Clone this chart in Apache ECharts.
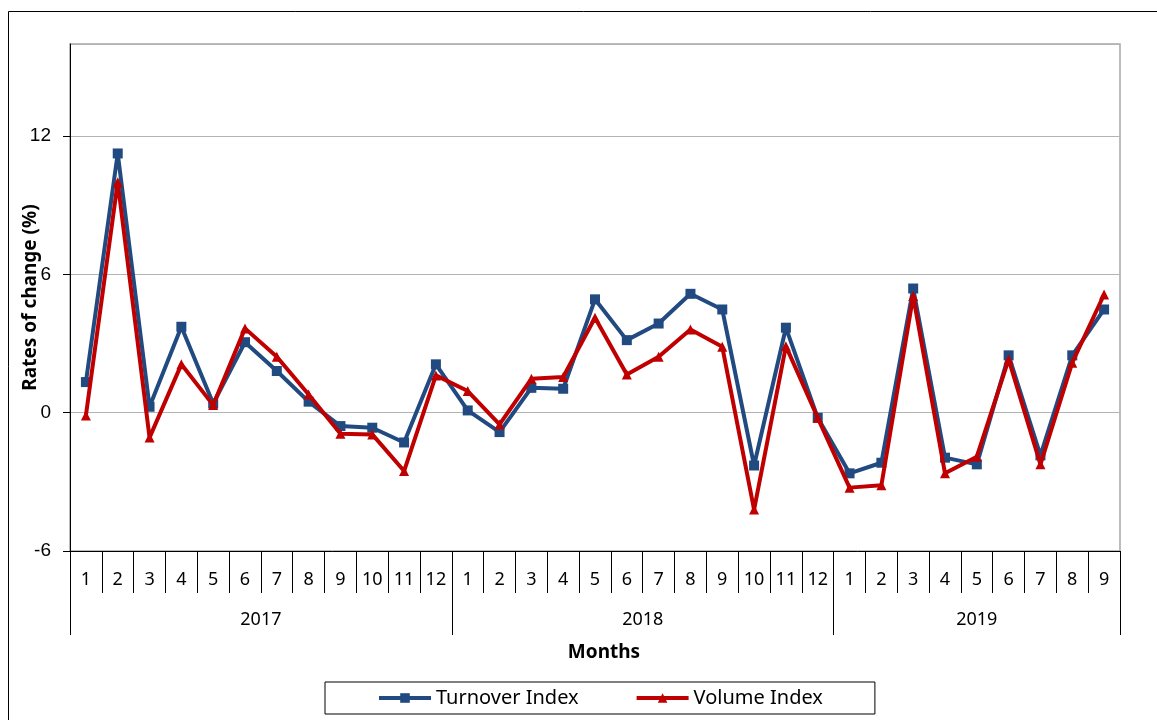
<!DOCTYPE html>
<html>
<head>
<meta charset="utf-8">
<script src="https://cdn.jsdelivr.net/npm/echarts@6/dist/echarts.min.js"></script>
<style>html,body{margin:0;padding:0;background:#fff}#c{width:1157px;height:720px}</style>
</head>
<body>
<div id="c"></div>
<script>
const years = ['2017', '2018', '2019'];
const monthsPerYear = [12, 12, 9];
const monthLabels = ['1','2','3','4','5','6','7','8','9','10','11','12',
                     '1','2','3','4','5','6','7','8','9','10','11','12',
                     '1','2','3','4','5','6','7','8','9'];
const turnoverIndex = [1.33, 11.25, 0.26, 3.73, 0.40, 3.06, 1.81, 0.48, -0.58, -0.65, -1.29, 2.10,
                       0.10, -0.84, 1.08, 1.04, 4.92, 3.15, 3.87, 5.16, 4.48, -2.29, 3.69, -0.22,
                       -2.63, -2.17, 5.39, -1.95, -2.24, 2.49, -1.85, 2.49, 4.48];
const volumeIndex = [-0.12, 10.0, -1.08, 2.10, 0.33, 3.66, 2.43, 0.79, -0.91, -0.94, -2.53, 1.62,
                     0.94, -0.51, 1.47, 1.55, 4.12, 1.66, 2.43, 3.61, 2.86, -4.20, 2.89, -0.22,
                     -3.25, -3.15, 5.06, -2.63, -1.91, 2.31, -2.24, 2.17, 5.13];
const yTicks = {min: -6, max: 16, interval: 6};

// derived helpers for the year axis
const yearStarts = [];
const yearLabelAt = {};
let s = 0;
years.forEach((y, i) => {
  const n = monthsPerYear[i];
  yearStarts.push(s);
  const k = s + Math.floor((n - 1) / 2);
  const shift = (s + n / 2) - (k + 0.5); // in bands
  yearLabelAt[k] = {text: y, shifted: shift > 0.01};
  s += n;
});
const yearCats = monthLabels.map((m, i) => String(i));

const gridLeft = 70, gridRight = 37, gridTop = 44, gridBottom = 169;
const band = (1157 - gridLeft - gridRight) / monthLabels.length;

const chart = echarts.init(document.getElementById('c'));
chart.setOption({
  animation: false,
  backgroundColor: '#fff',
  graphic: [{
    type: 'rect', silent: true, z: -1,
    shape: {x: 8.5, y: 11.5, width: 1300, height: 900},
    style: {fill: 'none', stroke: '#000', lineWidth: 1}
  }],
  grid: {left: gridLeft, right: gridRight, top: gridTop, bottom: gridBottom,
         outerBoundsMode: 'none', containLabel: false,
         show: true, borderColor: '#a6a6a6', borderWidth: 1.5, backgroundColor: 'transparent'},
  legend: {
    bottom: 6, left: 325,
    data: ['Turnover Index', 'Volume Index'],
    borderColor: '#000', borderWidth: 1,
    padding: [6, 52],
    itemWidth: 52, itemHeight: 12, itemGap: 56,
    lineStyle: {width: 4},
    textStyle: {fontFamily: 'Noto Sans', fontSize: 20, color: '#000'}
  },
  xAxis: [{
    type: 'category',
    data: monthLabels,
    position: 'bottom',
    boundaryGap: true,
    axisLine: {show: true, onZero: false, lineStyle: {color: '#000', width: 1}},
    axisTick: {show: true, interval: 0, length: 42, lineStyle: {color: '#000'}},
    axisLabel: {interval: 0, margin: 20, fontFamily: 'Noto Sans', fontSize: 18, color: '#000'},
    splitLine: {show: false},
    name: 'Months',
    nameLocation: 'middle',
    nameGap: 92,
    nameMoveOverlap: false,
    nameTextStyle: {fontFamily: 'Noto Sans', fontSize: 19, fontWeight: 'bold', color: '#000', padding: [0, 0, 0, 18]}
  }, {
    type: 'category',
    data: yearCats,
    position: 'bottom',
    offset: 0,
    boundaryGap: true,
    axisLine: {show: false, onZero: false},
    axisTick: {show: true, length: 84, lineStyle: {color: '#000'},
               interval: function (idx) { return yearStarts.indexOf(idx) >= 0; }},
    axisLabel: {
      margin: 60,
      interval: function (idx) { return yearLabelAt[idx] !== undefined; },
      formatter: function (v, idx) {
        const e = yearLabelAt[idx];
        if (!e) return '';
        return e.shifted ? '{s|' + e.text + '}' : '{n|' + e.text + '}';
      },
      rich: {
        s: {fontFamily: 'Noto Sans', fontSize: 18, color: '#000', padding: [0, 0, 0, band]},
        n: {fontFamily: 'Noto Sans', fontSize: 18, color: '#000'}
      }
    },
    splitLine: {show: false}
  }],
  yAxis: {
    type: 'value',
    min: yTicks.min, max: yTicks.max, interval: yTicks.interval,
    axisLine: {show: true, lineStyle: {color: '#000', width: 1}},
    axisTick: {show: true, length: 7, lineStyle: {color: '#000'}},
    axisLabel: {showMaxLabel: false, margin: 19, fontFamily: 'Liberation Sans', fontSize: 19, color: '#000'},
    splitLine: {show: true, lineStyle: {color: '#b3b3b3', width: 1.2}},
    name: 'Rates of change (%)',
    nameLocation: 'middle',
    nameGap: 30,
    nameMoveOverlap: false,
    nameTextStyle: {fontFamily: 'Noto Sans', fontSize: 19, fontWeight: 'bold', color: '#000'}
  },
  series: [{
    name: 'Turnover Index',
    type: 'line',
    data: turnoverIndex,
    symbol: 'rect', symbolSize: 10,
    lineStyle: {color: '#214A80', width: 4},
    itemStyle: {color: '#214A80'},
    z: 2
  }, {
    name: 'Volume Index',
    type: 'line',
    data: volumeIndex,
    symbol: 'triangle', symbolSize: 10,
    lineStyle: {color: '#C00000', width: 4},
    itemStyle: {color: '#C00000'},
    z: 3
  }]
});
</script>
</body>
</html>
